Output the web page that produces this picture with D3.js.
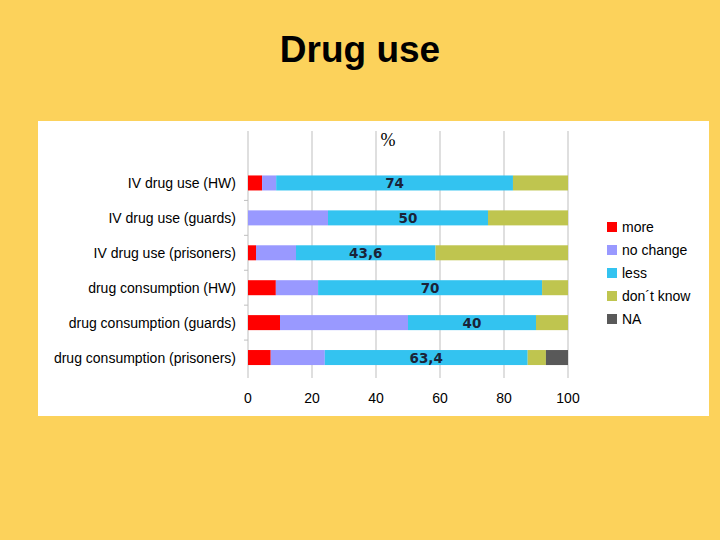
<!DOCTYPE html>
<html><head><meta charset="utf-8">
<script src="https://cdn.jsdelivr.net/npm/d3@7"></script>
<style>body{margin:0;background:#FCD25B;} svg{display:block;}</style>
</head><body>
<svg id="c" width="720" height="540"></svg>
<script>
const categories = ["IV drug use (HW)","IV drug use (guards)","IV drug use (prisoners)","drug consumption (HW)","drug consumption (guards)","drug consumption (prisoners)"];
const seriesNames = ["more","no change","less","don´t know","NA"];
const more      = [4.4, 0,   2.5, 8.7, 10,  7.1];
const noChange  = [4.4, 25,  12.5,13.2,40,  16.9];
const less      = [74,  50,  43.6,70,  40,  63.4];
const dontKnow  = [17.2,25,  41.4,8.1, 10,  5.7];
const na        = [0,   0,   0,   0,   0,   6.9];
const lessLabels = ["74","50","43,6","70","40","63,4"];
const xTicks = [0,20,40,60,80,100];
const colors = ["#FF0000","#9999FF","#33C3F0","#BFC54F","#595959"];

const svg = d3.select("#c");
svg.append("rect").attr("x",0).attr("y",0).attr("width",720).attr("height",540).attr("fill","#FCD25B");
svg.append("text").attr("x",360).attr("y",62).attr("text-anchor","middle")
  .attr("font-family","Liberation Sans, Arial, sans-serif").attr("font-weight","bold").attr("font-size",37)
  .attr("fill","#000").text("Drug use");
svg.append("rect").attr("x",38).attr("y",121).attr("width",671).attr("height",295).attr("fill","#fff");

const x = d3.scaleLinear().domain([0,100]).range([248,568]);
const y = d3.scaleBand().domain(categories).range([165.5,375]).paddingInner(0.57).paddingOuter(0.285);

// gridlines
svg.append("g").selectAll("line").data(xTicks).join("line")
  .attr("x1",d=>x(d)).attr("x2",d=>x(d)).attr("y1",131).attr("y2",378)
  .attr("stroke","#BFBFBF").attr("stroke-width",1);
// category boundary ticks
const bounds = categories.map((c,i)=> y(c) - y.step()*y.paddingInner()/2);
svg.append("g").selectAll("line").data(bounds.slice(1)).join("line")
  .attr("x1",244).attr("x2",248).attr("y1",d=>d).attr("y2",d=>d).attr("stroke","#BFBFBF");

const seriesData = [more,noChange,less,dontKnow,na];
const table = categories.map((c,i)=>{const o={cat:c}; seriesNames.forEach((s,j)=>o[s]=seriesData[j][i]); return o;});
const stack = d3.stack().keys(seriesNames)(table);
svg.append("g").selectAll("g").data(stack).join("g").attr("fill",(d,i)=>colors[i])
  .selectAll("rect").data(d=>d).join("rect")
  .attr("x",d=>x(d[0])).attr("width",d=>x(d[1])-x(d[0]))
  .attr("y",d=>y(d.data.cat)).attr("height",y.bandwidth());

// data labels on "less"
svg.append("g").selectAll("text").data(stack[2]).join("text")
  .attr("x",d=>(x(d[0])+x(d[1]))/2).attr("y",(d)=>y(d.data.cat)+y.bandwidth()/2+5.5)
  .attr("text-anchor","middle").attr("font-family","DejaVu Sans, sans-serif").attr("font-weight","bold")
  .attr("font-size",13.5).attr("fill","#1A2338").text((d,i)=>lessLabels[i]);

// category labels
svg.append("g").selectAll("text").data(categories).join("text")
  .attr("x",236).attr("y",d=>y(d)+y.bandwidth()/2+5).attr("text-anchor","end")
  .attr("font-family","Liberation Sans, Arial, sans-serif").attr("font-size",14).attr("fill","#000").text(d=>d);

// x tick labels
svg.append("g").selectAll("text").data(xTicks).join("text")
  .attr("x",d=>x(d)).attr("y",403).attr("text-anchor","middle")
  .attr("font-family","Liberation Sans, Arial, sans-serif").attr("font-size",14).attr("fill","#000").text(d=>d);

// % title
svg.append("text").attr("x",388).attr("y",146).attr("text-anchor","middle")
  .attr("font-family","Liberation Serif, Times New Roman, serif").attr("font-size",18).attr("fill","#000").text("%");

// legend
const lg = svg.append("g").selectAll("g").data(seriesNames).join("g")
  .attr("transform",(d,i)=>`translate(607,${222+i*23})`);
lg.append("rect").attr("width",10).attr("height",10).attr("fill",(d,i)=>colors[i]);
lg.append("text").attr("x",15).attr("y",10).attr("font-family","Liberation Sans, Arial, sans-serif")
  .attr("font-size",14).attr("fill","#000").text(d=>d);
</script>
</body></html>
